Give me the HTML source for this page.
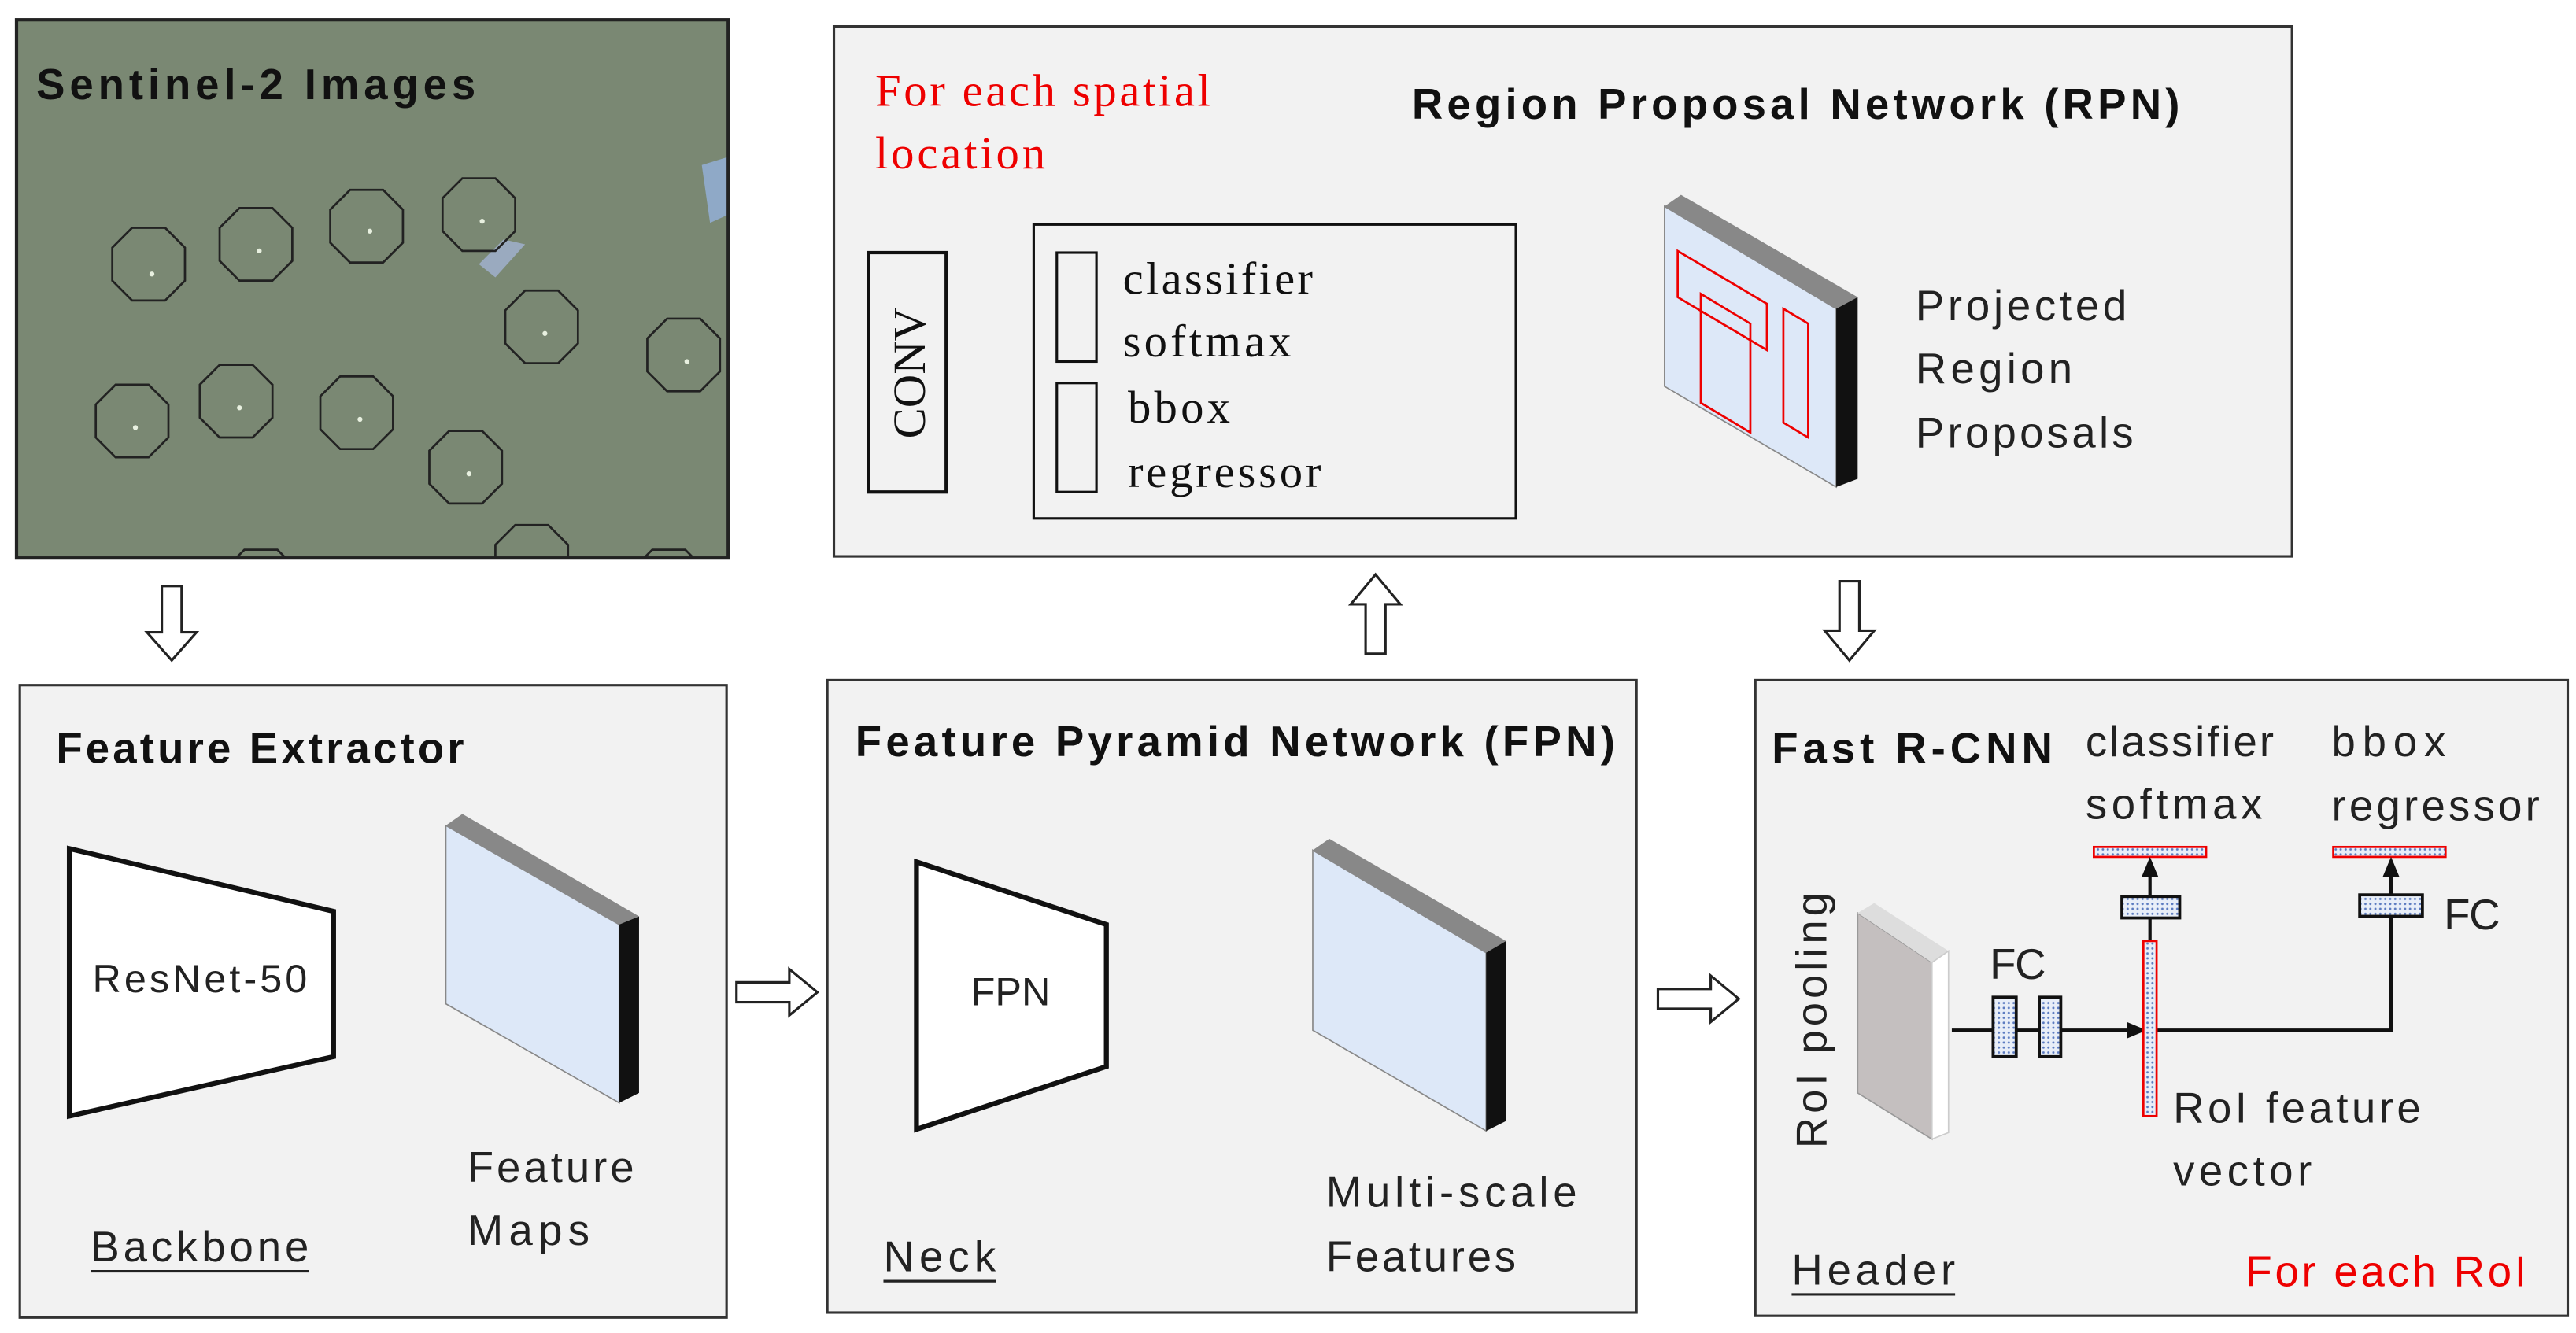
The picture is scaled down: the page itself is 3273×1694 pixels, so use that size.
<!DOCTYPE html>
<html><head><meta charset="utf-8"><style>
html,body{margin:0;padding:0;background:#fff;}
svg{display:block;}
text{font-family:"Liberation Sans",sans-serif;}
.s{font-family:"Liberation Serif",serif;}
.b{font-weight:bold;}
</style></head><body>
<svg width="3273" height="1694" viewBox="0 0 1560 807.4" preserveAspectRatio="none" xmlns="http://www.w3.org/2000/svg">
<defs>
<clipPath id="ic"><rect x="10" y="12" width="431" height="326"/></clipPath>
<pattern id="dot" width="3" height="3" patternUnits="userSpaceOnUse"><rect width="3" height="3" fill="#e8eef8"/><circle cx="1.5" cy="1.5" r="0.7" fill="#5a7ac0"/></pattern>
<polygon id="oct" points="-10,-22 10,-22 22,-10 22,10 10,22 -10,22 -22,10 -22,-10" fill="none" stroke="#222" stroke-width="1.3"/>
</defs>
<rect x="10" y="12" width="431" height="326" fill="#7a8873"/>
<g clip-path="url(#ic)">
<path d="M425,100 L441,95 L441,130 L430,135Z" fill="#8fa9c7"/>
<path d="M290,160 L305,145 L318,148 L300,168Z" fill="#9aaabf"/>
<g>
<use href="#oct" x="90" y="160"/><use href="#oct" x="155" y="148"/><use href="#oct" x="222" y="137"/><use href="#oct" x="290" y="130"/>
<use href="#oct" x="328" y="198"/><use href="#oct" x="414" y="215"/><use href="#oct" x="80" y="255"/><use href="#oct" x="143" y="243"/>
<use href="#oct" x="216" y="250"/><use href="#oct" x="282" y="283"/><use href="#oct" x="322" y="340"/><use href="#oct" x="158" y="355"/><use href="#oct" x="405" y="355"/>
</g>
<g fill="#e8f0e0"><circle cx="92" cy="166" r="1.5"/><circle cx="157" cy="152" r="1.5"/><circle cx="224" cy="140" r="1.5"/><circle cx="292" cy="134" r="1.5"/><circle cx="330" cy="202" r="1.5"/><circle cx="416" cy="219" r="1.5"/><circle cx="82" cy="259" r="1.5"/><circle cx="145" cy="247" r="1.5"/><circle cx="218" cy="254" r="1.5"/><circle cx="284" cy="287" r="1.5"/></g>
</g>
<rect x="10" y="12" width="431" height="326" fill="none" stroke="#222" stroke-width="2"/>
<text x="22" y="60" font-size="26" class="b" fill="#111" textLength="266">Sentinel-2 Images</text>

<g fill="#fff" stroke="#222" stroke-width="1.5">
<path d="M98,355 h12 v28 h9 l-15,17 l-15,-17 h9z"/>
<path d="M207,591 h32 v-8 l17,14 l-17,14 v-8 h-32z"/>
<path d="M446,595 h32 v-8 l17,14 l-17,14 v-8 h-32z"/>
<path d="M707,594 h32 v-8 l17,14 l-17,14 v-8 h-32z"/>
<path d="M827,396 h12 v-30 h9 l-15,-18 l-15,18 h9z"/>
<path d="M1114,352 h12 v30 h9 l-15,18 l-15,-18 h9z"/>
<path d="M1004,599 h32 v-8 l17,14 l-17,14 v-8 h-32z"/>
<path d="M577,216 h32 v-8 l17,14 l-17,14 v-8 h-32z"/>
<path d="M932,199 h32 v-8 l17,14 l-17,14 v-8 h-32z"/>
</g>

<rect x="12" y="415" width="428" height="383" fill="#f2f2f2" stroke="#333" stroke-width="1.5"/>
<text x="34" y="462" font-size="26" class="b" fill="#111" textLength="247">Feature Extractor</text>
<polygon points="42,514 202,552 202,640 42,676" fill="#fff" stroke="#111" stroke-width="3"/>
<text x="56" y="601" font-size="24" fill="#222" textLength="130">ResNet-50</text>
<polygon points="270,500 375,560 375,668 270,608" fill="#dde8f8" stroke="#888" stroke-width="0.8"/>
<polygon points="270,500 280,493 387,555 375,560" fill="#888"/>
<polygon points="375,560 387,555 387,662 375,668" fill="#111"/>
<text x="283" y="716" font-size="26" fill="#222" textLength="101">Feature</text>
<text x="283" y="754" font-size="26" fill="#222" textLength="74">Maps</text>
<text x="55" y="764" font-size="26" fill="#222" textLength="132">Backbone</text>
<line x1="55" y1="770" x2="187" y2="770" stroke="#222" stroke-width="1.5"/>

<rect x="501" y="412" width="490" height="383" fill="#f2f2f2" stroke="#333" stroke-width="1.5"/>
<text x="518" y="458" font-size="26" class="b" fill="#111" textLength="460">Feature Pyramid Network (FPN)</text>
<polygon points="555,522 670,560 670,646 555,684" fill="#fff" stroke="#111" stroke-width="3"/>
<text x="588" y="609" font-size="24" fill="#222" textLength="48">FPN</text>
<polygon points="795,515 900,577 900,685 795,624" fill="#dde8f8" stroke="#888" stroke-width="0.8"/>
<polygon points="795,515 805,508 912,570 900,577" fill="#888"/>
<polygon points="900,577 912,570 912,679 900,685" fill="#111"/>
<text x="803" y="731" font-size="26" fill="#222" textLength="152">Multi-scale</text>
<text x="803" y="770" font-size="26" fill="#222" textLength="115">Features</text>
<text x="535" y="770" font-size="26" fill="#222" textLength="68">Neck</text>
<line x1="535" y1="776" x2="603" y2="776" stroke="#222" stroke-width="1.5"/>

<rect x="505" y="16" width="883" height="321" fill="#f2f2f2" stroke="#333" stroke-width="1.5"/>
<text x="530" y="64" font-size="28" class="s" fill="#e00" textLength="203">For each spatial</text>
<text x="530" y="102" font-size="28" class="s" fill="#e00" textLength="103">location</text>
<text x="855" y="72" font-size="26" class="b" fill="#111" textLength="465">Region Proposal Network (RPN)</text>
<rect x="526" y="153" width="47" height="145" fill="#f2f2f2" stroke="#111" stroke-width="2"/>
<text class="s" font-size="28" fill="#111" text-anchor="middle" transform="translate(560,226) rotate(-90)">CONV</text>
<rect x="626" y="136" width="292" height="178" fill="#f2f2f2" stroke="#111" stroke-width="1.5"/>
<rect x="640" y="153" width="24" height="66" fill="none" stroke="#111" stroke-width="1.5"/>
<rect x="640" y="232" width="24" height="66" fill="none" stroke="#111" stroke-width="1.5"/>
<text x="680" y="178" font-size="28" class="s" fill="#111" textLength="115">classifier</text>
<text x="680" y="216" font-size="28" class="s" fill="#111" textLength="102">softmax</text>
<text x="683" y="256" font-size="28" class="s" fill="#111" textLength="62">bbox</text>
<text x="683" y="295" font-size="28" class="s" fill="#111" textLength="117">regressor</text>
<polygon points="1008,125 1112,187 1112,295 1008,234" fill="#dde8f8" stroke="#888" stroke-width="0.8"/>
<polygon points="1008,125 1018,118 1125,180 1112,187" fill="#888"/>
<polygon points="1112,187 1125,180 1125,290 1112,295" fill="#111"/>
<g fill="none" stroke="#e00" stroke-width="1.3">
<polygon points="1016,152 1070,184 1070,212 1016,180"/>
<polygon points="1030,178 1060,196 1060,262 1030,244"/>
<polygon points="1080,187 1095,196 1095,265 1080,256"/>
</g>
<text x="1160" y="194" font-size="26" fill="#222" textLength="128">Projected</text>
<text x="1160" y="232" font-size="26" fill="#222" textLength="95">Region</text>
<text x="1160" y="271" font-size="26" fill="#222" textLength="132">Proposals</text>

<rect x="1063" y="412" width="492" height="385" fill="#f2f2f2" stroke="#333" stroke-width="1.5"/>
<text x="1073" y="462" font-size="26" class="b" fill="#111" textLength="170">Fast R-CNN</text>
<text x="1263" y="458" font-size="26" fill="#222" textLength="114">classifier</text>
<text x="1263" y="496" font-size="26" fill="#222" textLength="107">softmax</text>
<text x="1412" y="458" font-size="26" fill="#222" textLength="69">bbox</text>
<text x="1412" y="497" font-size="26" fill="#222" textLength="126">regressor</text>
<rect x="1268" y="513" width="68" height="6" fill="url(#dot)" stroke="#e00" stroke-width="1.3"/>
<rect x="1413" y="513" width="68" height="6" fill="url(#dot)" stroke="#e00" stroke-width="1.3"/>
<g stroke="#111" stroke-width="2" fill="none">
<line x1="1302" y1="570" x2="1302" y2="530"/>
<line x1="1182" y1="624" x2="1290" y2="624"/>
<polyline points="1306,624 1448,624 1448,530"/>
</g>
<polygon points="1302,519 1297,531 1307,531" fill="#111"/>
<polygon points="1448,519 1443,531 1453,531" fill="#111"/>
<polygon points="1300,624 1288,619 1288,629" fill="#111"/>
<rect x="1285" y="543" width="35" height="13" fill="url(#dot)" stroke="#111" stroke-width="1.8"/>
<rect x="1429" y="542" width="38" height="13" fill="url(#dot)" stroke="#111" stroke-width="1.8"/>
<text x="1480" y="563" font-size="26" fill="#222" textLength="34">FC</text>
<rect x="1298" y="570" width="8" height="106" fill="url(#dot)" stroke="#e00" stroke-width="1.3"/>
<polygon points="1125,553 1170,583 1170,690 1125,662" fill="#c4bfbf" stroke="#999" stroke-width="0.8"/>
<polygon points="1125,553 1135,547 1180,576 1170,583" fill="#ddd"/>
<polygon points="1170,583 1180,576 1180,686 1170,690" fill="#fff" stroke="#ccc" stroke-width="0.8"/>
<text font-size="26" fill="#222" text-anchor="middle" textLength="155" transform="translate(1106,618) rotate(-90)">RoI pooling</text>
<rect x="1207" y="604" width="14" height="36" fill="url(#dot)" stroke="#111" stroke-width="1.8"/>
<rect x="1235" y="604" width="13" height="36" fill="url(#dot)" stroke="#111" stroke-width="1.8"/>
<text x="1205" y="593" font-size="26" fill="#222" textLength="34">FC</text>
<text x="1316" y="680" font-size="26" fill="#222" textLength="150">RoI feature</text>
<text x="1316" y="718" font-size="26" fill="#222" textLength="84">vector</text>
<text x="1085" y="778" font-size="26" fill="#222" textLength="99">Header</text>
<line x1="1085" y1="784" x2="1184" y2="784" stroke="#222" stroke-width="1.5"/>
<text x="1360" y="779" font-size="26" fill="#e00" textLength="170">For each RoI</text>
</svg>
</body></html>
